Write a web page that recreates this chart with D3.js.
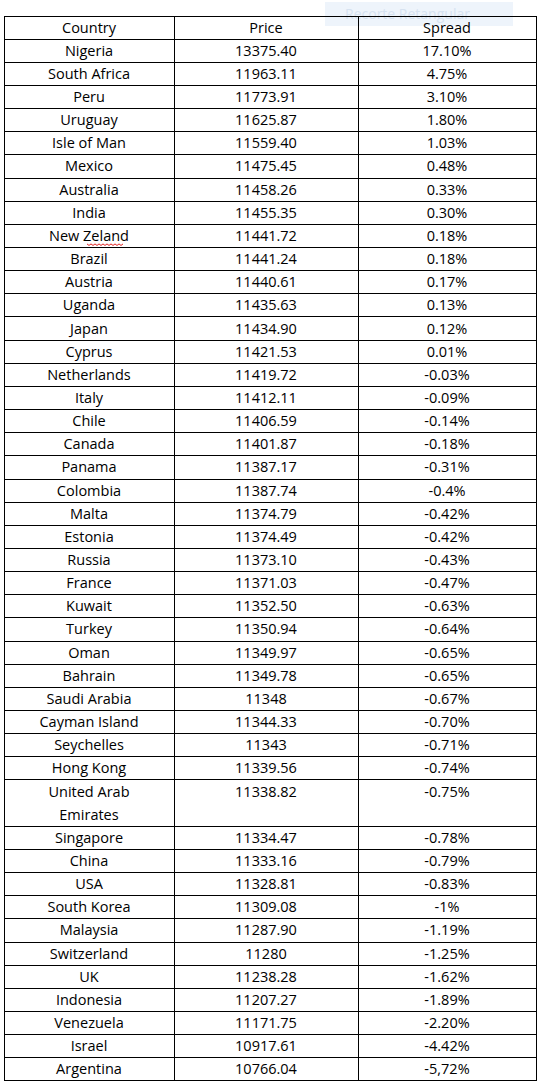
<!DOCTYPE html>
<html><head><meta charset="utf-8">
<script src="https://cdn.jsdelivr.net/npm/d3@7"></script>
<style>body{margin:0;background:#fff}</style>
</head><body>
<script>
const headers = ['Country', 'Price', 'Spread'];
const countries = ['Nigeria','South Africa','Peru','Uruguay','Isle of Man','Mexico','Australia','India','New Zeland','Brazil','Austria','Uganda','Japan','Cyprus','Netherlands','Italy','Chile','Canada','Panama','Colombia','Malta','Estonia','Russia','France','Kuwait','Turkey','Oman','Bahrain','Saudi Arabia','Cayman Island','Seychelles','Hong Kong','United Arab Emirates','Singapore','China','USA','South Korea','Malaysia','Switzerland','UK','Indonesia','Venezuela','Israel','Argentina'];
const prices = ['13375.40','11963.11','11773.91','11625.87','11559.40','11475.45','11458.26','11455.35','11441.72','11441.24','11440.61','11435.63','11434.90','11421.53','11419.72','11412.11','11406.59','11401.87','11387.17','11387.74','11374.79','11374.49','11373.10','11371.03','11352.50','11350.94','11349.97','11349.78','11348','11344.33','11343','11339.56','11338.82','11334.47','11333.16','11328.81','11309.08','11287.90','11280','11238.28','11207.27','11171.75','10917.61','10766.04'];
const spreads = ['17.10%','4.75%','3.10%','1.80%','1.03%','0.48%','0.33%','0.30%','0.18%','0.18%','0.17%','0.13%','0.12%','0.01%','-0.03%','-0.09%','-0.14%','-0.18%','-0.31%','-0.4%','-0.42%','-0.42%','-0.43%','-0.47%','-0.63%','-0.64%','-0.65%','-0.65%','-0.67%','-0.70%','-0.71%','-0.74%','-0.75%','-0.78%','-0.79%','-0.83%','-1%','-1.19%','-1.25%','-1.62%','-1.89%','-2.20%','-4.42%','-5,72%'];

const W = 545, H = 1087;
const tableTop = 16, rowH = 23.15;
const colX = [4, 174, 358, 536];

const svg = d3.select('body').append('svg').attr('width', W).attr('height', H);

// overlay left by the screenshot tool
svg.append('rect').attr('x', 325).attr('y', 2).attr('width', 188).attr('height', 24).attr('fill', '#eef4fb');
svg.append('text').attr('x', 345).attr('y', 19).attr('font-family', 'Open Sans, sans-serif')
  .attr('font-size', 14).attr('fill', '#d6e2f0').text('Recorte Retangular');

const rows = [{cells: headers, span: 1}].concat(countries.map((c, i) => ({
  cells: [c, prices[i], spreads[i]], span: c === 'United Arab Emirates' ? 2 : 1
})));
let u = 0;
rows.forEach(r => { r.y = tableTop + u * rowH; r.h = r.span * rowH; u += r.span; });
const bottom = tableTop + u * rowH;

const g = svg.append('g').attr('font-family', 'Open Sans, sans-serif').attr('font-size', 14.5).attr('fill', '#000');

rows.forEach(r => {
  r.cells.forEach((t, j) => {
    const cx = (colX[j] + colX[j + 1]) / 2;
    if (r.span === 2 && j === 0) {
      g.append('text').attr('x', cx).attr('y', r.y + rowH / 2 + 5).attr('text-anchor', 'middle').text('United Arab');
      g.append('text').attr('x', cx).attr('y', r.y + rowH * 1.5 + 5).attr('text-anchor', 'middle').text('Emirates');
    } else {
      g.append('text').attr('x', cx).attr('y', r.y + rowH / 2 + 5).attr('text-anchor', 'middle').text(t);
      if (t === 'New Zeland') {
        // spell check squiggle under "Zeland"
        const x0 = cx - 2, x1 = cx + 36, yy = r.y + rowH / 2 + 8;
        const pts = d3.range(x0, x1, 2).map((x, k) => [x, yy + (k % 2 ? 1.5 : 0)]);
        svg.append('path').attr('d', d3.line()(pts)).attr('fill', 'none').attr('stroke', '#e02020').attr('stroke-width', 1);
      }
    }
  });
});

const lines = svg.append('g').attr('stroke', '#000').attr('stroke-width', 1).attr('shape-rendering', 'crispEdges');
rows.forEach(r => lines.append('line').attr('x1', colX[0]).attr('x2', colX[3]).attr('y1', r.y).attr('y2', r.y));
lines.append('line').attr('x1', colX[0]).attr('x2', colX[3]).attr('y1', bottom).attr('y2', bottom);
colX.forEach(x => lines.append('line').attr('x1', x).attr('x2', x).attr('y1', tableTop).attr('y2', bottom));
</script>
</body></html>
